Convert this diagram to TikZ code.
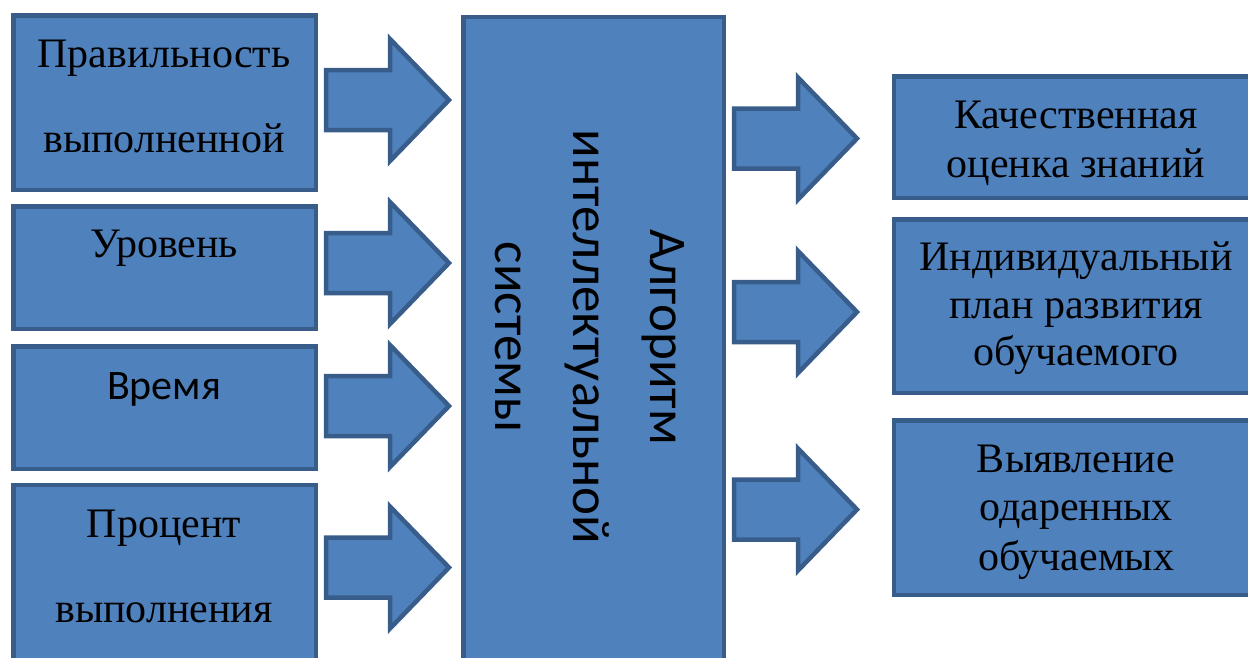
\documentclass[tikz,border=0pt]{standalone}
\usepackage{fontspec}
\setmainfont{Liberation Serif}
\newfontfamily\calib{Carlito}
\definecolor{boxfill}{HTML}{4F81BD}
\definecolor{boxline}{HTML}{385D8A}
\tikzset{
  box/.style={draw=boxline, fill=boxfill, line width=4.5pt, rectangle, inner sep=0pt, outer sep=0pt},
  lbl/.style={anchor=base, inner sep=0pt, text=black, font=\fontsize{42}{48}\selectfont},
  slbl/.style={anchor=base, inner sep=0pt, text=black, font=\calib\fontsize{42}{48}\selectfont},
  clbl/.style={anchor=base, inner sep=0pt, text=black, rotate=-90, font=\calib\fontsize{53}{60}\selectfont},
  arrowshape/.style={draw=boxline, fill=boxfill, line width=4.5pt, line join=miter},
  barrow/.pic={\path[arrowshape] (0,-30) -- (64,-30) -- (64,-61) -- (123,0) -- (64,61) -- (64,30) -- (0,30) -- cycle;}
}
\begin{document}
\begin{tikzpicture}[x=1pt,y=-1pt]
\useasboundingbox (0,0) rectangle (1248,657);
\fill[white] (0,0) rectangle (1248,657);
\clip (0,0) rectangle (1248,657);
% left boxes
\node[box, minimum width=302.5pt, minimum height=174.5pt] (l1) at (164.5,102.5) {};
\node[box, minimum width=302.5pt, minimum height=122.5pt] (l2) at (164.5,267.5) {};
\node[box, minimum width=302.5pt, minimum height=122.5pt] (l3) at (164.5,407.5) {};
\node[box, minimum width=302.5pt, minimum height=214.75pt] (l4) at (164.5,592.6) {};
% centre box
\node[box, minimum width=260.5pt, minimum height=682.75pt] (c) at (593.5,358.6) {};
% right boxes
\node[box, minimum width=365.75pt, minimum height=121.5pt] (r1) at (1077.1,137) {};
\node[box, minimum width=365.75pt, minimum height=173.5pt] (r2) at (1077.1,306) {};
\node[box, minimum width=365.75pt, minimum height=174.5pt] (r3) at (1077.1,507.5) {};
% left texts
\node[lbl] (t1a) at (164,67) {Правильность};
\node[lbl] (t1b) at (164,152) {выполненной};
\node[lbl] (t2) at (164,257) {Уровень};
\node[slbl] (t3) at (164,399) {Время};
\node[lbl] (t4a) at (164,537) {Процент};
\node[lbl] (t4b) at (164,622) {выполнения};
% centre text
\node[clbl] (ca) at (650,337) {Алгоритм};
\node[clbl] (cb) at (573,337) {интеллектуальной};
\node[clbl] (cc) at (495,337) {системы};
% right texts
\node[lbl] (r1a) at (1076,128) {Качественная};
\node[lbl] (r1b) at (1076,177) {оценка знаний};
\node[lbl] (r2a) at (1076,270) {Индивидуальный};
\node[lbl] (r2b) at (1076,318) {план развития};
\node[lbl] (r2c) at (1076,365) {обучаемого};
\node[lbl] (r3a) at (1076,472) {Выявление};
\node[lbl] (r3b) at (1076,520) {одаренных};
\node[lbl] (r3c) at (1076,570) {обучаемых};
% block arrows
\pic at (326,100) {barrow};
\pic at (326,263) {barrow};
\pic at (326,406) {barrow};
\pic at (326,567.5) {barrow};
\pic at (734,138.5) {barrow};
\pic at (734,312) {barrow};
\pic at (734,509.5) {barrow};
\end{tikzpicture}
\end{document}
